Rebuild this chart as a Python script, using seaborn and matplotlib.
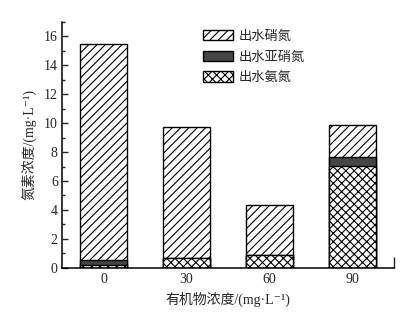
import matplotlib
matplotlib.use("Agg")
import matplotlib.pyplot as plt
import seaborn as sns
import numpy as np
from matplotlib.patches import Patch
from matplotlib.ticker import FixedLocator

categories = ["0", "30", "60", "90"]
ammonia = [0.20, 0.70, 0.85, 7.03]
nitrite = [0.35, 0.00, 0.00, 0.65]
nitrate = [14.90, 9.05, 3.48, 2.17]
series_labels = ["出水硝氮", "出水亚硝氮", "出水氨氮"]
xlabel = "有机物浓度/(mg·L⁻¹)"
ylabel = "氮素浓度/(mg·L⁻¹)"

sns.set_style("ticks")
plt.rcParams["font.family"] = ["Liberation Serif", "Noto Sans CJK SC", "DejaVu Sans"]
plt.rcParams["hatch.linewidth"] = 0.8
plt.rcParams["hatch.color"] = "black"

fig = plt.figure(figsize=(4.2, 3.12), dpi=100)
ax = fig.add_axes([62/420, 1-267.7/312, (394-62)/420, (267.7-22)/312])

am = np.array(ammonia)
ni = np.array(nitrite)
na = np.array(nitrate)
total = am + ni + na
mid = am + ni

bw = 0.56
sns.barplot(x=categories, y=total, order=categories, width=bw, color="white",
            edgecolor="black", linewidth=1.0, hatch="////", ax=ax, saturation=1)
sns.barplot(x=categories, y=mid, order=categories, width=bw, color="#454545",
            edgecolor="black", linewidth=1.0, ax=ax, saturation=1)
sns.barplot(x=categories, y=am, order=categories, width=bw, color="white",
            edgecolor="black", linewidth=1.0, hatch="xxxx", ax=ax, saturation=1)

ax.set_xlim(-0.5, 3.5)
ax.set_ylim(0, 17)
ax.yaxis.set_major_locator(FixedLocator([0, 2, 4, 6, 8, 10, 12, 14, 16]))
ax.yaxis.set_minor_locator(FixedLocator([1, 3, 5, 7, 9, 11, 13, 15, 17]))
ax.xaxis.set_minor_locator(FixedLocator([3.5]))
ax.tick_params(axis="y", which="major", direction="in", length=4.5, width=1.0, labelsize=10, pad=3)
ax.tick_params(axis="y", which="minor", direction="in", length=2.5, width=1.0)
ax.tick_params(axis="x", which="major", length=0, labelsize=10, pad=4)
ax.tick_params(axis="x", which="minor", direction="in", length=8, width=1.0)

for s in ["top", "right"]:
    ax.spines[s].set_visible(False)
for s in ["left", "bottom"]:
    ax.spines[s].set_linewidth(1.1)
    ax.spines[s].set_color("black")

ax.set_xlabel(xlabel, fontsize=10, labelpad=4)
ax.set_ylabel(ylabel, fontsize=10, labelpad=5)

handles = [
    Patch(facecolor="white", edgecolor="black", hatch="////", linewidth=1.0),
    Patch(facecolor="#454545", edgecolor="black", linewidth=1.0),
    Patch(facecolor="white", edgecolor="black", hatch="xxxx", linewidth=1.0),
]
ax.legend(handles, series_labels, loc="upper left", bbox_to_anchor=(0.40, 1.0),
          frameon=False, fontsize=9.5, handlelength=2.3, handleheight=0.85,
          labelspacing=0.6, handletextpad=0.4, borderaxespad=0.2)

fig.savefig("out.png", dpi=100)
